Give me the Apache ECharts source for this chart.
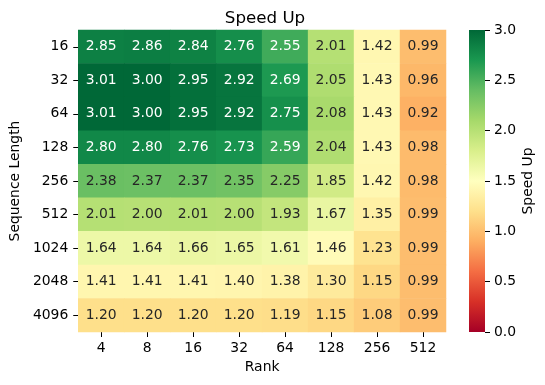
<!DOCTYPE html>
<html><head><meta charset="utf-8">
<script src="https://cdn.jsdelivr.net/npm/echarts@6/dist/echarts.min.js"></script>
<style>html,body{margin:0;padding:0;background:#fff}#c{width:545px;height:385px}</style>
</head><body><div id="c"></div>
<script>
const ranks = ['4','8','16','32','64','128','256','512'];
const seqLens = ['16','32','64','128','256','512','1024','2048','4096'];
const row16   = [2.85,2.86,2.84,2.76,2.55,2.01,1.42,0.99];
const row32   = [3.01,3.00,2.95,2.92,2.69,2.05,1.43,0.96];
const row64   = [3.01,3.00,2.95,2.92,2.75,2.08,1.43,0.92];
const row128  = [2.80,2.80,2.76,2.73,2.59,2.04,1.43,0.98];
const row256  = [2.38,2.37,2.37,2.35,2.25,1.85,1.42,0.98];
const row512  = [2.01,2.00,2.01,2.00,1.93,1.67,1.35,0.99];
const row1024 = [1.64,1.64,1.66,1.65,1.61,1.46,1.23,0.99];
const row2048 = [1.41,1.41,1.41,1.40,1.38,1.30,1.15,0.99];
const row4096 = [1.20,1.20,1.20,1.20,1.19,1.15,1.08,0.99];
const rows = [row16,row32,row64,row128,row256,row512,row1024,row2048,row4096];
const cbMax = [3];

const rdylgn = ['#a50026','#d73027','#f46d43','#fdae61','#fee08b','#ffffbf','#d9ef8b','#a6d96a','#66bd63','#1a9850','#006837'];
const FONT = "'DejaVu Sans', sans-serif";
const FS = 13.9;

const data = [];
rows.forEach((r, yi) => r.forEach((v, xi) => {
  data.push({value: [xi, yi, v], label: {color: v >= 2.45 ? '#ffffff' : '#262626'}});
}));

const chart = echarts.init(document.getElementById('c'), null, {renderer: 'canvas'});
chart.setOption({
  animation: false,
  textStyle: {fontFamily: FONT},
  title: {text: 'Speed Up', left: 260, top: 5, textAlign: 'center',
    textStyle: {fontFamily: FONT, fontSize: 16.7, fontWeight: 'normal', color: '#000'}},
  grid: [
    {left: 74, top: 30, width: 372, height: 302},
    {left: 469, top: 30, width: 16, height: 302}
  ],
  xAxis: [
    {type: 'category', data: ranks, gridIndex: 0, name: 'Rank', nameLocation: 'middle', nameGap: 28,
     nameTextStyle: {fontFamily: FONT, fontSize: FS, color: '#000'},
     axisLine: {show: false}, axisTick: {show: true, alignWithLabel: true, length: 5, lineStyle: {color: '#000'}},
     axisLabel: {fontFamily: FONT, fontSize: FS, color: '#000', margin: 9}, splitLine: {show: false}},
    {type: 'category', data: ['cb'], gridIndex: 1, show: false}
  ],
  yAxis: [
    {type: 'category', data: seqLens, gridIndex: 0, inverse: true, name: 'Sequence Length', nameLocation: 'middle',
     nameGap: 52, nameRotate: 90,
     nameTextStyle: {fontFamily: FONT, fontSize: FS, color: '#000'},
     axisLine: {show: false}, axisTick: {show: true, alignWithLabel: true, length: 5, lineStyle: {color: '#000'}},
     axisLabel: {fontFamily: FONT, fontSize: FS, color: '#000', margin: 10}, splitLine: {show: false}},
    {type: 'value', gridIndex: 1, min: 0, max: 3, interval: 0.5, position: 'right',
     name: 'Speed Up', nameLocation: 'middle', nameGap: 36, nameRotate: 90,
     nameTextStyle: {fontFamily: FONT, fontSize: FS, color: '#000'},
     axisLine: {show: false}, axisTick: {show: true, length: 5, lineStyle: {color: '#000'}},
     axisLabel: {fontFamily: FONT, fontSize: FS, color: '#000', margin: 9, formatter: v => v.toFixed(1)},
     splitLine: {show: false}}
  ],
  visualMap: {show: false, min: 0, max: 3, seriesIndex: 0, inRange: {color: rdylgn}},
  series: [
    {type: 'heatmap', xAxisIndex: 0, yAxisIndex: 0, data: data,
     label: {show: true, fontFamily: FONT, fontSize: FS, formatter: p => p.value[2].toFixed(2)},
     itemStyle: {borderWidth: 0}, emphasis: {disabled: true}},
    {type: 'bar', xAxisIndex: 1, yAxisIndex: 1, data: cbMax, barWidth: '100%', silent: true,
     itemStyle: {color: new echarts.graphic.LinearGradient(0, 1, 0, 0,
       rdylgn.map((c, i) => ({offset: i / (rdylgn.length - 1), color: c})))}}
  ]
});
</script></body></html>
